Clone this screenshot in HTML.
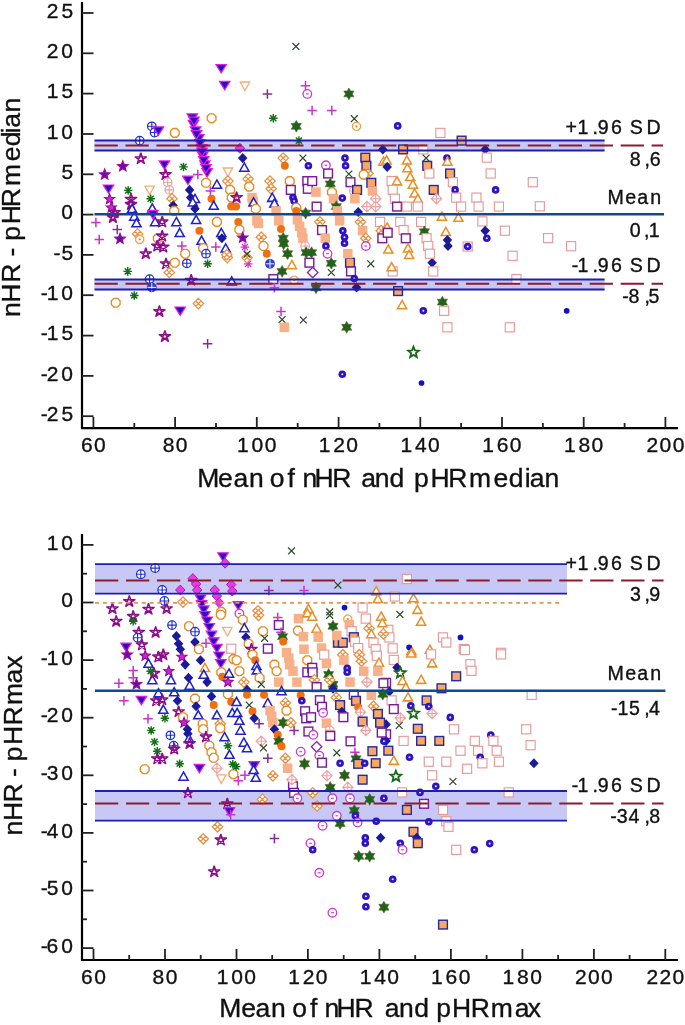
<!DOCTYPE html>
<html><head><meta charset="utf-8"><style>
html,body{margin:0;padding:0;background:#fff;width:685px;height:1025px;overflow:hidden}
svg{display:block;filter:blur(0.3px)}
text{white-space:pre;stroke:#111;stroke-width:0.35px}
</style></head><body>
<svg width="685" height="1025" viewBox="0 0 685 1025" font-family='"Liberation Sans", sans-serif' fill="#111">
<rect x="94.5" y="140.5" width="510.1" height="10.0" fill="#c8c8f6"/><rect x="94.5" y="279.5" width="510.1" height="10.0" fill="#c8c8f6"/><defs><g id="ptv" transform="scale(0.95)"><path d="M-5.5,-4L5.5,-4L0,4.8Z" fill="#2a0cc4" stroke="#e01ee0" stroke-width="1.3"/></g><g id="pst" transform="scale(0.9)"><path d="M0.00,-6.60L3.88,5.34L-6.28,-2.04L6.28,-2.04L-3.88,5.34L0.00,-6.60" fill="none" stroke="#8c0c8c" stroke-width="1.6" stroke-linejoin="round"/></g><g id="pstf" transform="scale(0.85)"><polygon points="0.00,-6.30 1.65,-2.27 5.99,-1.95 2.66,0.87 3.70,5.10 0.00,2.80 -3.70,5.10 -2.66,0.87 -5.99,-1.95 -1.65,-2.27" fill="#5a10b0" stroke="#9a0c9a" stroke-width="1.5"/></g><g id="ga" transform="scale(0.95)"><path d="M-4.5,0H4.5M0,-4.5V4.5M-3.2,-3.2L3.2,3.2M-3.2,3.2L3.2,-3.2" stroke="#147014" stroke-width="1.5"/></g><g id="ma" transform="scale(0.95)"><path d="M-4.5,0H4.5M0,-4.5V4.5M-3.2,-3.2L3.2,3.2M-3.2,3.2L3.2,-3.2" stroke="#d030d0" stroke-width="1.3"/></g><g id="otv" transform="scale(0.95)"><path d="M-5,-4L5,-4L0,5Z" fill="#fff" stroke="#f0b078" stroke-width="1.4"/></g><g id="oc" transform="scale(0.95)"><polygon points="4.62,1.91 1.91,4.62 -1.91,4.62 -4.62,1.91 -4.62,-1.91 -1.91,-4.62 1.91,-4.62 4.62,-1.91" fill="#fff" stroke="#e88a20" stroke-width="1.4"/></g><g id="ocd" transform="scale(0.95)"><polygon points="4.16,1.72 1.72,4.16 -1.72,4.16 -4.16,1.72 -4.16,-1.72 -1.72,-4.16 1.72,-4.16 4.16,-1.72" fill="#fff" stroke="#f0a040" stroke-width="1.3"/><circle r="1.2" fill="#f08020"/></g><g id="bcp" transform="scale(0.95)"><circle r="4.5" fill="#fff" stroke="#2030d0" stroke-width="1.3"/><path d="M-4.5,0H4.5M0,-4.5V4.5" stroke="#2030d0" stroke-width="1.2"/></g><g id="bcpf" transform="scale(0.95)"><circle r="4.5" fill="#3040d8" stroke="#2030d0" stroke-width="1.3"/><path d="M-4.5,0H4.5M0,-4.5V4.5" stroke="#fff" stroke-width="1"/></g><g id="pkcp" transform="scale(0.95)"><circle r="4.5" fill="#fff" stroke="#f0a0a0" stroke-width="1.3"/><path d="M-4.5,0H4.5M0,-4.5V4.5" stroke="#f0a0a0" stroke-width="1.2"/></g><g id="mp" transform="scale(0.95)"><path d="M-5,0H5M0,-5V5" stroke="#d030d0" stroke-width="1.6"/></g><g id="dp" transform="scale(0.95)"><path d="M-5,0H5M0,-5V5" stroke="#8a2a9a" stroke-width="1.6"/></g><g id="mcd" transform="scale(0.95)"><circle r="4.5" fill="#fff" stroke="#c83cd0" stroke-width="1.4"/><path d="M-1.5,0H1.5" stroke="#c83cd0" stroke-width="1.2"/></g><g id="x" transform="scale(0.95)"><path d="M-3.6,-3.6L3.6,3.6M-3.6,3.6L3.6,-3.6" stroke="#2a4a2a" stroke-width="1.3"/></g><g id="gst" transform="scale(0.95)"><polygon points="0.00,-6.20 1.80,-3.12 5.37,-3.10 3.60,0.00 5.37,3.10 1.80,3.12 0.00,6.20 -1.80,3.12 -5.37,3.10 -3.60,0.00 -5.37,-3.10 -1.80,-3.12" fill="#1a661a" stroke="#6a5a2a" stroke-width="0.6"/></g><g id="gsto" transform="scale(0.9)"><polygon points="0.00,-6.30 1.65,-2.27 5.99,-1.95 2.66,0.87 3.70,5.10 0.00,2.80 -3.70,5.10 -2.66,0.87 -5.99,-1.95 -1.65,-2.27" fill="none" stroke="#1a661a" stroke-width="2"/></g><g id="bt" transform="scale(0.9)"><path d="M0,-4.9L5.1,4.2H-5.1Z" fill="#fff" stroke="#2020d0" stroke-width="1.7"/></g><g id="ot" transform="scale(0.9)"><path d="M0,-4.9L5.1,4.2H-5.1Z" fill="#fff" stroke="#e89028" stroke-width="1.7"/></g><g id="ss" transform="scale(0.95)"><rect x="-5" y="-5" width="10" height="10" fill="#f8b088"/></g><g id="pks" transform="scale(0.95)"><rect x="-4.8" y="-4.8" width="9.6" height="9.6" fill="#fff" stroke="#e89898" stroke-width="1.2"/></g><g id="pus" transform="scale(0.95)"><rect x="-4.6" y="-4.6" width="9.2" height="9.2" fill="#fff" stroke="#7a1a9a" stroke-width="1.5"/></g><g id="osq" transform="scale(0.95)"><rect x="-4.6" y="-4.6" width="9.2" height="9.2" fill="#f8a860" stroke="#2a2aa0" stroke-width="1.5"/></g><g id="bc" transform="scale(0.95)"><circle r="4" fill="#2e12c4"/><circle r="1.1" fill="#e8e0ff"/></g><g id="bcs" transform="scale(0.95)"><circle r="3" fill="#1010d0"/></g><g id="bd" transform="scale(0.95)"><path d="M0,-5.3L5,0L0,5.3L-5,0Z" fill="#1a1a9a"/></g><g id="od" transform="scale(0.95)"><path d="M0,-5.5L5.5,0L0,5.5L-5.5,0ZM-2.7,-2.7L2.7,2.7M-2.7,2.7L2.7,-2.7" fill="#fff" stroke="#e89040" stroke-width="1.3"/></g><g id="pkd" transform="scale(0.95)"><path d="M0,-5.5L5.5,0L0,5.5L-5.5,0ZM-5.5,0H5.5M0,-5.5V5.5" fill="#fff" stroke="#f0a0a0" stroke-width="1.2"/></g><g id="pud" transform="scale(0.95)"><path d="M0,-5.5L5.5,0L0,5.5L-5.5,0Z" fill="#fff" stroke="#8a2aa0" stroke-width="1.4"/></g><g id="md" transform="scale(0.95)"><path d="M0,-5.2L5,0L0,5.2L-5,0Z" fill="#e838e8" stroke="#a020b0" stroke-width="1"/></g><g id="pstm" transform="scale(0.85)"><polygon points="0.00,-6.30 1.65,-2.27 5.99,-1.95 2.66,0.87 3.70,5.10 0.00,2.80 -3.70,5.10 -2.66,0.87 -5.99,-1.95 -1.65,-2.27" fill="#d020e0" stroke="#8c0c8c" stroke-width="1.3"/></g><g id="ofc" transform="scale(0.95)"><circle r="4.2" fill="#f07010"/></g></defs><use href="#ptv" x="221.2" y="68.3"/><use href="#ptv" x="224.7" y="85.2"/><use href="#bcp" x="151.8" y="126.3"/><use href="#bcp" x="154.6" y="132.5"/><use href="#ptv" x="158.4" y="130.7"/><use href="#oc" x="174.8" y="132.9"/><use href="#oc" x="211.6" y="118.2"/><use href="#ptv" x="192.3" y="117.6"/><use href="#ptv" x="193.4" y="124.2"/><use href="#ptv" x="195.6" y="130.7"/><use href="#ptv" x="198.9" y="138.4"/><use href="#bcp" x="139.7" y="140.6"/><use href="#x" x="295.9" y="46.4"/><use href="#otv" x="244.9" y="85.8"/><use href="#dp" x="267.4" y="93.9"/><use href="#mp" x="305.5" y="85.8"/><use href="#mcd" x="307.3" y="93.9"/><use href="#gst" x="348.9" y="93.9"/><use href="#mp" x="312.1" y="110.6"/><use href="#mp" x="331.8" y="110.6"/><use href="#ga" x="273.3" y="118.2"/><use href="#gst" x="296.3" y="126.3"/><use href="#x" x="354.3" y="118.7"/><use href="#ocd" x="356.5" y="126.3"/><use href="#ga" x="298.9" y="140.6"/><use href="#bc" x="397.7" y="125.9"/><use href="#pks" x="440.4" y="132.9"/><use href="#osq" x="461.6" y="140.6"/><use href="#pks" x="539.8" y="206.3"/><use href="#pks" x="548.1" y="238.1"/><use href="#pks" x="571.1" y="246.2"/><use href="#pst" x="166.0" y="263.8"/><use href="#oc" x="174.8" y="262.7"/><use href="#od" x="169.3" y="272.5"/><use href="#bcp" x="186.8" y="263.3"/><use href="#ga" x="207.6" y="263.8"/><use href="#od" x="227.3" y="257.6"/><use href="#ga" x="127.7" y="271.4"/><use href="#bcp" x="149.6" y="279.1"/><use href="#bcpf" x="151.8" y="287.4"/><use href="#pst" x="191.2" y="280.2"/><use href="#bt" x="231.7" y="281.3"/><use href="#ga" x="134.3" y="295.5"/><use href="#oc" x="115.7" y="302.7"/><use href="#pst" x="159.4" y="311.5"/><use href="#ptv" x="180.2" y="310.8"/><use href="#od" x="198.4" y="303.6"/><use href="#pst" x="164.9" y="336.5"/><use href="#dp" x="207.6" y="343.7"/><use href="#ma" x="248.1" y="263.8"/><use href="#od" x="247.0" y="257.6"/><use href="#bcpf" x="270.0" y="263.8"/><use href="#gst" x="282.1" y="271.4"/><use href="#ot" x="291.9" y="264.9"/><use href="#pus" x="309.4" y="262.7"/><use href="#pud" x="312.7" y="272.5"/><use href="#gst" x="331.3" y="263.3"/><use href="#x" x="331.3" y="272.5"/><use href="#osq" x="350.0" y="262.7"/><use href="#pus" x="351.0" y="271.4"/><use href="#x" x="370.8" y="263.8"/><use href="#pus" x="273.3" y="279.1"/><use href="#mp" x="274.4" y="287.8"/><use href="#ocd" x="294.1" y="280.2"/><use href="#gst" x="316.0" y="287.8"/><use href="#bc" x="354.3" y="278.6"/><use href="#bd" x="356.5" y="287.4"/><use href="#mp" x="281.0" y="311.5"/><use href="#x" x="282.1" y="319.6"/><use href="#ss" x="284.3" y="327.3"/><use href="#x" x="303.3" y="320.0"/><use href="#gst" x="346.7" y="327.3"/><use href="#pks" x="392.7" y="271.4"/><use href="#ot" x="391.6" y="267.0"/><use href="#bd" x="432.1" y="262.7"/><use href="#pks" x="433.2" y="271.4"/><use href="#pks" x="516.4" y="279.1"/><use href="#osq" x="398.1" y="291.1"/><use href="#ot" x="402.1" y="304.9"/><use href="#bc" x="423.3" y="310.8"/><use href="#gst" x="442.4" y="302.1"/><use href="#pks" x="444.1" y="310.8"/><use href="#pks" x="447.4" y="327.3"/><use href="#pks" x="509.8" y="327.3"/><use href="#gsto" x="413.5" y="352.4"/><use href="#pst" x="140.8" y="158.7"/><use href="#pstf" x="122.8" y="166.4"/><use href="#pstf" x="104.7" y="174.6"/><use href="#ptv" x="108.5" y="188.8"/><use href="#pstm" x="109.6" y="199.2"/><use href="#ga" x="128.2" y="190.4"/><use href="#pst" x="131.0" y="199.2"/><use href="#otv" x="149.6" y="189.9"/><use href="#ga" x="150.7" y="198.7"/><use href="#pstm" x="111.3" y="207.7"/><use href="#pst" x="114.6" y="212.6"/><use href="#pst" x="112.9" y="217.5"/><use href="#pst" x="131.0" y="204.4"/><use href="#bt" x="132.1" y="208.8"/><use href="#bt" x="134.3" y="216.4"/><use href="#bt" x="136.5" y="223.0"/><use href="#mp" x="95.9" y="222.4"/><use href="#mp" x="99.2" y="239.4"/><use href="#dp" x="117.3" y="229.6"/><use href="#pstf" x="120.0" y="238.9"/><use href="#od" x="137.6" y="233.9"/><use href="#ocd" x="139.7" y="239.4"/><use href="#bt" x="152.3" y="208.2"/><use href="#bt" x="155.1" y="221.9"/><use href="#ptv" x="152.9" y="214.2"/><use href="#oc" x="157.8" y="238.3"/><use href="#pst" x="157.3" y="246.0"/><use href="#pst" x="145.8" y="253.7"/><use href="#ptv" x="201.6" y="148.3"/><use href="#ptv" x="202.7" y="155.9"/><use href="#ptv" x="204.9" y="164.7"/><use href="#ptv" x="207.1" y="172.4"/><use href="#ga" x="183.5" y="166.9"/><use href="#mp" x="197.8" y="174.6"/><use href="#ptv" x="164.4" y="164.7"/><use href="#pst" x="165.5" y="174.6"/><use href="#pkcp" x="167.7" y="182.2"/><use href="#pkcp" x="169.3" y="189.9"/><use href="#od" x="172.0" y="198.7"/><use href="#ptv" x="187.9" y="180.0"/><use href="#bd" x="189.6" y="189.9"/><use href="#bd" x="190.7" y="197.6"/><use href="#bt" x="195.0" y="198.7"/><use href="#oc" x="206.0" y="182.8"/><use href="#mp" x="210.4" y="191.0"/><use href="#bt" x="216.9" y="184.4"/><use href="#ofc" x="211.5" y="198.7"/><use href="#otv" x="227.9" y="171.8"/><use href="#od" x="227.9" y="181.1"/><use href="#oc" x="230.1" y="189.9"/><use href="#oc" x="231.7" y="197.6"/><use href="#bd" x="173.1" y="205.5"/><use href="#oc" x="174.2" y="210.9"/><use href="#bt" x="176.4" y="221.9"/><use href="#bt" x="179.7" y="232.8"/><use href="#mp" x="181.9" y="246.0"/><use href="#oc" x="185.2" y="253.7"/><use href="#pst" x="162.2" y="221.9"/><use href="#pst" x="162.2" y="236.1"/><use href="#pst" x="163.3" y="247.1"/><use href="#bt" x="192.8" y="202.2"/><use href="#bd" x="195.0" y="208.8"/><use href="#bt" x="196.1" y="219.7"/><use href="#ofc" x="199.4" y="230.7"/><use href="#bt" x="201.6" y="240.5"/><use href="#oc" x="203.2" y="248.2"/><use href="#bcp" x="206.0" y="253.7"/><use href="#bt" x="213.7" y="205.5"/><use href="#oc" x="216.9" y="221.9"/><use href="#bt" x="221.3" y="232.8"/><use href="#bd" x="221.9" y="238.3"/><use href="#mp" x="215.8" y="247.1"/><use href="#bt" x="225.7" y="248.2"/><use href="#od" x="226.8" y="254.7"/><use href="#ofc" x="231.2" y="206.6"/><use href="#md" x="239.9" y="148.3"/><use href="#bd" x="242.7" y="158.1"/><use href="#bt" x="244.3" y="167.4"/><use href="#od" x="283.2" y="158.1"/><use href="#ofc" x="284.8" y="165.8"/><use href="#x" x="302.9" y="158.1"/><use href="#bc" x="308.4" y="165.8"/><use href="#od" x="248.1" y="178.9"/><use href="#oc" x="249.2" y="186.6"/><use href="#ss" x="252.0" y="197.6"/><use href="#od" x="270.0" y="181.1"/><use href="#od" x="271.1" y="188.8"/><use href="#bt" x="272.2" y="197.6"/><use href="#oc" x="289.7" y="181.1"/><use href="#pus" x="290.8" y="189.9"/><use href="#bc" x="293.0" y="197.6"/><use href="#pus" x="307.3" y="181.1"/><use href="#pus" x="307.8" y="188.8"/><use href="#pst" x="236.6" y="197.6"/><use href="#ofc" x="236.1" y="206.6"/><use href="#ss" x="253.1" y="201.1"/><use href="#bt" x="253.6" y="202.2"/><use href="#oc" x="255.8" y="208.8"/><use href="#bt" x="274.4" y="203.3"/><use href="#ss" x="276.1" y="210.9"/><use href="#bc" x="294.1" y="201.1"/><use href="#oc" x="296.3" y="207.7"/><use href="#ofc" x="296.3" y="210.9"/><use href="#gst" x="305.6" y="213.1"/><use href="#ofc" x="238.3" y="221.9"/><use href="#oc" x="239.4" y="229.6"/><use href="#pstf" x="242.7" y="237.8"/><use href="#ma" x="244.9" y="247.1"/><use href="#x" x="247.0" y="254.2"/><use href="#ss" x="256.9" y="220.8"/><use href="#ss" x="258.5" y="223.5"/><use href="#od" x="261.3" y="237.2"/><use href="#oc" x="263.5" y="246.0"/><use href="#ofc" x="266.8" y="253.7"/><use href="#ss" x="278.8" y="220.8"/><use href="#ofc" x="281.0" y="229.0"/><use href="#gst" x="283.2" y="238.3"/><use href="#gst" x="283.7" y="243.8"/><use href="#gst" x="287.6" y="253.7"/><use href="#ss" x="297.4" y="219.7"/><use href="#ss" x="299.6" y="226.3"/><use href="#ss" x="301.8" y="232.8"/><use href="#ss" x="302.9" y="238.3"/><use href="#pkcp" x="305.1" y="246.0"/><use href="#gst" x="306.2" y="252.6"/><use href="#mcd" x="325.9" y="165.3"/><use href="#pus" x="328.1" y="173.5"/><use href="#gst" x="330.3" y="183.9"/><use href="#oc" x="331.9" y="192.1"/><use href="#ss" x="333.5" y="198.7"/><use href="#bc" x="345.0" y="158.1"/><use href="#bc" x="345.6" y="165.8"/><use href="#x" x="348.9" y="174.0"/><use href="#pus" x="350.5" y="182.2"/><use href="#pkcp" x="353.8" y="191.0"/><use href="#osq" x="357.1" y="189.9"/><use href="#ss" x="354.9" y="198.7"/><use href="#bc" x="342.3" y="198.1"/><use href="#osq" x="365.3" y="157.6"/><use href="#osq" x="366.4" y="165.8"/><use href="#od" x="368.0" y="173.5"/><use href="#oc" x="363.7" y="174.6"/><use href="#osq" x="371.3" y="182.8"/><use href="#ss" x="372.4" y="191.0"/><use href="#pkd" x="375.7" y="198.7"/><use href="#ss" x="316.0" y="192.1"/><use href="#pus" x="312.2" y="181.1"/><use href="#bd" x="382.8" y="149.4"/><use href="#ot" x="383.4" y="161.4"/><use href="#pus" x="316.6" y="206.6"/><use href="#gst" x="336.3" y="206.6"/><use href="#ss" x="337.4" y="210.9"/><use href="#pkd" x="366.9" y="206.6"/><use href="#pkd" x="375.7" y="206.6"/><use href="#bd" x="358.2" y="212.0"/><use href="#od" x="319.9" y="221.9"/><use href="#pus" x="322.0" y="230.1"/><use href="#ss" x="325.3" y="238.3"/><use href="#bc" x="325.9" y="246.0"/><use href="#mcd" x="327.5" y="253.7"/><use href="#ss" x="339.6" y="220.8"/><use href="#bc" x="342.8" y="230.7"/><use href="#bc" x="344.5" y="237.2"/><use href="#bc" x="344.5" y="243.2"/><use href="#ss" x="347.8" y="253.7"/><use href="#od" x="360.4" y="221.9"/><use href="#ss" x="362.6" y="230.7"/><use href="#od" x="365.8" y="238.3"/><use href="#mcd" x="365.8" y="246.0"/><use href="#pks" x="380.1" y="221.9"/><use href="#od" x="381.2" y="230.7"/><use href="#pus" x="382.3" y="238.3"/><use href="#gst" x="311.6" y="252.6"/><use href="#osq" x="403.1" y="149.4"/><use href="#pks" x="423.3" y="149.4"/><use href="#ot" x="386.6" y="160.3"/><use href="#bd" x="387.2" y="166.9"/><use href="#ot" x="406.9" y="160.3"/><use href="#ot" x="407.4" y="168.0"/><use href="#ot" x="410.2" y="176.8"/><use href="#ot" x="412.9" y="184.4"/><use href="#ot" x="414.6" y="193.2"/><use href="#ot" x="417.8" y="198.7"/><use href="#x" x="426.1" y="158.1"/><use href="#osq" x="427.2" y="165.8"/><use href="#pks" x="429.3" y="173.5"/><use href="#bc" x="446.9" y="158.1"/><use href="#ot" x="447.4" y="161.4"/><use href="#osq" x="450.1" y="173.5"/><use href="#pks" x="452.9" y="182.2"/><use href="#bc" x="455.1" y="189.9"/><use href="#pks" x="456.2" y="197.6"/><use href="#pks" x="391.6" y="181.1"/><use href="#ot" x="397.0" y="181.1"/><use href="#pks" x="392.7" y="189.9"/><use href="#pks" x="394.9" y="198.7"/><use href="#osq" x="433.7" y="189.9"/><use href="#pkd" x="436.5" y="198.7"/><use href="#pus" x="397.0" y="206.6"/><use href="#pks" x="406.9" y="206.6"/><use href="#pks" x="417.8" y="206.6"/><use href="#ot" x="441.9" y="216.4"/><use href="#ot" x="458.4" y="217.5"/><use href="#pks" x="400.3" y="221.9"/><use href="#pks" x="403.6" y="230.1"/><use href="#pus" x="405.8" y="238.3"/><use href="#ot" x="408.0" y="248.2"/><use href="#ot" x="409.1" y="254.7"/><use href="#pks" x="421.1" y="221.9"/><use href="#gst" x="424.4" y="231.8"/><use href="#pks" x="426.6" y="238.3"/><use href="#pks" x="428.2" y="246.0"/><use href="#pks" x="429.9" y="253.7"/><use href="#ot" x="445.8" y="231.8"/><use href="#bd" x="447.4" y="240.0"/><use href="#bd" x="448.0" y="246.0"/><use href="#ot" x="387.2" y="227.4"/><use href="#ot" x="388.3" y="249.3"/><use href="#pus" x="387.7" y="232.8"/><use href="#bd" x="485.2" y="149.4"/><use href="#pks" x="486.8" y="157.6"/><use href="#pks" x="490.7" y="173.5"/><use href="#bc" x="495.6" y="189.9"/><use href="#pks" x="476.4" y="197.6"/><use href="#pks" x="532.8" y="182.2"/><use href="#pks" x="461.1" y="206.6"/><use href="#pks" x="478.6" y="206.6"/><use href="#pks" x="498.9" y="206.6"/><use href="#pks" x="482.4" y="221.4"/><use href="#bd" x="485.2" y="230.7"/><use href="#bc" x="486.8" y="238.3"/><use href="#pks" x="504.9" y="230.7"/><use href="#pks" x="467.7" y="246.5"/><use href="#bc" x="467.7" y="246.5"/><use href="#pks" x="512.6" y="255.8"/><use href="#bcs" x="566.7" y="310.8"/><use href="#bc" x="342.3" y="374.3"/><use href="#bcs" x="421.5" y="383.0"/><use href="#ptv" x="194.0" y="121.0"/><use href="#ptv" x="196.5" y="134.5"/><use href="#ptv" x="200.0" y="143.5"/><use href="#ptv" x="202.0" y="152.0"/><use href="#ptv" x="203.8" y="160.5"/><use href="#ptv" x="206.0" y="168.5"/><line x1="94.5" y1="140.5" x2="604.6" y2="140.5" stroke="#1e1eb0" stroke-width="1.8"/><line x1="94.5" y1="150.5" x2="604.6" y2="150.5" stroke="#1e1eb0" stroke-width="1.8"/><line x1="94.5" y1="145.5" x2="663" y2="145.5" stroke="#8c1c2c" stroke-width="2" stroke-dasharray="23.3 7.65"/><line x1="94.5" y1="279.5" x2="604.6" y2="279.5" stroke="#1e1eb0" stroke-width="1.8"/><line x1="94.5" y1="289.5" x2="604.6" y2="289.5" stroke="#1e1eb0" stroke-width="1.8"/><line x1="94.5" y1="283.7" x2="663" y2="283.7" stroke="#8c1c2c" stroke-width="2" stroke-dasharray="23.3 7.65"/><line x1="94.5" y1="214.2" x2="664" y2="214.2" stroke="#0e4a9a" stroke-width="2.6"/><rect x="95" y="564.1" width="472" height="29.600000000000023" fill="#c8c8f6"/><rect x="95" y="791" width="472" height="29.600000000000023" fill="#c8c8f6"/><use href="#pst" x="187.9" y="792.8"/><use href="#pst" x="227.3" y="803.8"/><use href="#ptv" x="229.5" y="811.5"/><use href="#mp" x="230.6" y="814.7"/><use href="#od" x="217.5" y="826.8"/><use href="#od" x="203.2" y="838.8"/><use href="#pst" x="220.8" y="839.9"/><use href="#pst" x="214.2" y="871.7"/><use href="#x" x="291.5" y="550.9"/><use href="#pus" x="293.0" y="786.3"/><use href="#pus" x="294.1" y="792.8"/><use href="#mcd" x="297.4" y="798.3"/><use href="#od" x="262.4" y="799.4"/><use href="#od" x="312.7" y="792.8"/><use href="#od" x="317.1" y="806.0"/><use href="#gst" x="330.2" y="787.4"/><use href="#mcd" x="332.4" y="798.3"/><use href="#pkd" x="347.8" y="787.4"/><use href="#mcd" x="350.0" y="798.3"/><use href="#gst" x="369.7" y="799.4"/><use href="#bc" x="383.9" y="798.3"/><use href="#gst" x="354.3" y="810.4"/><use href="#bc" x="355.4" y="815.8"/><use href="#mcd" x="336.8" y="815.8"/><use href="#gst" x="340.1" y="823.5"/><use href="#mcd" x="357.6" y="822.4"/><use href="#bc" x="376.2" y="821.3"/><use href="#mcd" x="322.6" y="825.7"/><use href="#dp" x="274.4" y="838.4"/><use href="#mcd" x="310.5" y="843.2"/><use href="#bc" x="312.7" y="849.8"/><use href="#bc" x="365.3" y="837.7"/><use href="#bc" x="365.3" y="843.2"/><use href="#bd" x="380.6" y="837.7"/><use href="#gst" x="358.7" y="856.3"/><use href="#gst" x="369.7" y="856.3"/><use href="#mcd" x="319.3" y="872.8"/><use href="#bc" x="365.9" y="896.3"/><use href="#bc" x="365.9" y="906.8"/><use href="#mcd" x="332.4" y="912.7"/><use href="#gst" x="383.9" y="907.2"/><use href="#pks" x="406.9" y="579.0"/><use href="#pks" x="394.9" y="596.5"/><use href="#ot" x="413.5" y="598.0"/><use href="#ot" x="417.4" y="609.6"/><use href="#ot" x="421.1" y="621.5"/><use href="#x" x="399.9" y="614.4"/><use href="#pks" x="388.3" y="629.8"/><use href="#pks" x="389.4" y="637.4"/><use href="#pks" x="392.7" y="648.4"/><use href="#pks" x="443.0" y="637.4"/><use href="#pks" x="446.3" y="642.5"/><use href="#bcs" x="460.5" y="637.4"/><use href="#pks" x="463.8" y="649.0"/><use href="#ot" x="411.3" y="650.6"/><use href="#bcs" x="409.1" y="647.3"/><use href="#ot" x="429.9" y="649.5"/><use href="#pks" x="501.0" y="652.8"/><use href="#pks" x="393.8" y="659.9"/><use href="#bd" x="397.0" y="667.5"/><use href="#gsto" x="400.3" y="673.0"/><use href="#pus" x="386.1" y="682.8"/><use href="#ot" x="402.5" y="680.7"/><use href="#ot" x="405.8" y="687.2"/><use href="#bd" x="389.4" y="691.6"/><use href="#pks" x="391.6" y="700.4"/><use href="#pus" x="393.8" y="709.1"/><use href="#pkd" x="400.3" y="717.9"/><use href="#x" x="399.2" y="725.5"/><use href="#bd" x="386.1" y="724.4"/><use href="#pus" x="386.1" y="734.3"/><use href="#bd" x="386.1" y="740.9"/><use href="#osq" x="388.3" y="750.7"/><use href="#ot" x="393.8" y="760.6"/><use href="#ot" x="411.3" y="653.3"/><use href="#ot" x="432.1" y="663.1"/><use href="#pks" x="431.0" y="654.4"/><use href="#ot" x="421.1" y="679.6"/><use href="#ot" x="408.0" y="697.1"/><use href="#osq" x="456.2" y="676.3"/><use href="#osq" x="441.5" y="688.3"/><use href="#pks" x="470.4" y="664.2"/><use href="#pks" x="471.5" y="670.8"/><use href="#pks" x="501.0" y="654.4"/><use href="#pks" x="464.9" y="650.0"/><use href="#osq" x="426.6" y="700.4"/><use href="#bc" x="410.8" y="705.8"/><use href="#bc" x="428.8" y="706.5"/><use href="#gsto" x="413.5" y="713.5"/><use href="#pkd" x="432.1" y="713.5"/><use href="#bc" x="450.3" y="717.4"/><use href="#pks" x="454.0" y="729.3"/><use href="#osq" x="417.8" y="728.8"/><use href="#osq" x="421.1" y="740.9"/><use href="#osq" x="439.3" y="740.9"/><use href="#pks" x="403.6" y="740.9"/><use href="#bc" x="490.8" y="735.0"/><use href="#pks" x="474.8" y="740.9"/><use href="#pks" x="493.4" y="740.9"/><use href="#pks" x="496.7" y="750.7"/><use href="#pks" x="526.2" y="729.3"/><use href="#pks" x="530.6" y="745.2"/><use href="#pks" x="531.7" y="694.9"/><use href="#pks" x="460.5" y="750.7"/><use href="#pks" x="478.1" y="750.7"/><use href="#bc" x="480.2" y="757.3"/><use href="#bc" x="409.5" y="757.3"/><use href="#pks" x="428.8" y="761.7"/><use href="#pks" x="446.3" y="761.7"/><use href="#pks" x="498.9" y="761.7"/><use href="#gsto" x="395.9" y="776.4"/><use href="#pks" x="432.1" y="775.3"/><use href="#pks" x="467.1" y="768.8"/><use href="#x" x="452.9" y="781.5"/><use href="#bc" x="435.8" y="786.3"/><use href="#bc" x="420.0" y="792.4"/><use href="#pks" x="402.1" y="792.4"/><use href="#pks" x="508.7" y="792.4"/><use href="#pus" x="424.0" y="803.8"/><use href="#osq" x="406.9" y="809.9"/><use href="#pks" x="443.0" y="809.9"/><use href="#bc" x="428.8" y="821.7"/><use href="#pks" x="446.3" y="821.3"/><use href="#pks" x="448.5" y="826.8"/><use href="#osq" x="413.5" y="831.8"/><use href="#bd" x="416.7" y="837.7"/><use href="#osq" x="417.8" y="843.2"/><use href="#bc" x="400.3" y="843.2"/><use href="#mcd" x="402.5" y="849.8"/><use href="#pks" x="456.2" y="849.8"/><use href="#bc" x="474.3" y="849.8"/><use href="#bc" x="489.7" y="843.6"/><use href="#pks" x="482.4" y="763.3"/><use href="#bd" x="533.9" y="763.3"/><use href="#bc" x="392.7" y="879.3"/><use href="#osq" x="443.0" y="924.6"/><use href="#bcp" x="140.8" y="574.2"/><use href="#bcp" x="155.1" y="568.1"/><use href="#pst" x="129.3" y="601.5"/><use href="#pst" x="112.4" y="608.7"/><use href="#pst" x="148.5" y="609.2"/><use href="#pst" x="116.2" y="621.3"/><use href="#pst" x="133.2" y="616.4"/><use href="#ga" x="133.2" y="621.3"/><use href="#pst" x="138.7" y="632.3"/><use href="#pst" x="155.6" y="632.3"/><use href="#bcp" x="137.6" y="637.7"/><use href="#pst" x="141.9" y="644.8"/><use href="#ptv" x="126.1" y="647.0"/><use href="#pstf" x="127.2" y="654.7"/><use href="#pstm" x="145.2" y="655.8"/><use href="#bt" x="148.5" y="663.5"/><use href="#pst" x="158.4" y="656.9"/><use href="#mp" x="133.2" y="670.6"/><use href="#mp" x="133.2" y="677.8"/><use href="#pstf" x="136.5" y="684.3"/><use href="#mp" x="118.9" y="683.2"/><use href="#bt" x="152.3" y="679.9"/><use href="#pst" x="154.0" y="673.4"/><use href="#ga" x="150.7" y="671.2"/><use href="#mp" x="123.9" y="700.8"/><use href="#ptv" x="141.4" y="700.2"/><use href="#pst" x="156.2" y="700.8"/><use href="#bt" x="158.4" y="693.1"/><use href="#mp" x="148.0" y="718.8"/><use href="#ga" x="151.2" y="730.4"/><use href="#ga" x="154.5" y="741.9"/><use href="#ga" x="157.3" y="751.2"/><use href="#pst" x="157.3" y="758.8"/><use href="#oc" x="144.7" y="769.2"/><use href="#ptv" x="223.0" y="556.6"/><use href="#md" x="225.1" y="563.2"/><use href="#md" x="192.8" y="578.5"/><use href="#md" x="196.1" y="584.0"/><use href="#md" x="197.2" y="590.0"/><use href="#md" x="180.3" y="590.0"/><use href="#md" x="214.7" y="590.0"/><use href="#md" x="216.9" y="596.1"/><use href="#md" x="219.1" y="602.6"/><use href="#md" x="231.2" y="584.6"/><use href="#md" x="232.3" y="591.1"/><use href="#bcp" x="162.2" y="590.0"/><use href="#bcp" x="164.4" y="601.0"/><use href="#pst" x="166.6" y="608.7"/><use href="#od" x="183.0" y="602.1"/><use href="#ptv" x="200.5" y="598.8"/><use href="#ptv" x="201.6" y="604.3"/><use href="#ptv" x="203.8" y="609.7"/><use href="#oc" x="221.3" y="611.9"/><use href="#bcp" x="172.0" y="625.1"/><use href="#bd" x="176.4" y="636.1"/><use href="#bd" x="178.6" y="643.8"/><use href="#bd" x="180.3" y="649.2"/><use href="#pstm" x="181.9" y="656.9"/><use href="#bd" x="185.2" y="664.6"/><use href="#oc" x="189.0" y="626.2"/><use href="#bcp" x="195.0" y="631.7"/><use href="#bd" x="195.0" y="642.1"/><use href="#oc" x="198.9" y="649.2"/><use href="#bd" x="200.5" y="660.2"/><use href="#ot" x="204.9" y="667.8"/><use href="#ptv" x="204.9" y="615.3"/><use href="#ptv" x="207.1" y="620.8"/><use href="#ptv" x="209.3" y="627.3"/><use href="#ptv" x="211.5" y="635.0"/><use href="#ptv" x="213.7" y="641.6"/><use href="#ptv" x="216.9" y="648.1"/><use href="#ptv" x="219.1" y="655.8"/><use href="#ptv" x="220.8" y="663.5"/><use href="#mp" x="206.0" y="643.2"/><use href="#oc" x="220.8" y="614.7"/><use href="#otv" x="227.3" y="631.2"/><use href="#pks" x="231.2" y="648.7"/><use href="#oc" x="233.4" y="659.1"/><use href="#pst" x="163.3" y="654.7"/><use href="#pstm" x="168.8" y="671.2"/><use href="#bt" x="170.9" y="679.9"/><use href="#bt" x="174.2" y="692.0"/><use href="#bd" x="177.5" y="700.8"/><use href="#pst" x="178.6" y="711.7"/><use href="#oc" x="183.0" y="717.2"/><use href="#pstm" x="184.1" y="722.7"/><use href="#bd" x="188.5" y="677.8"/><use href="#bt" x="189.6" y="685.4"/><use href="#oc" x="195.0" y="698.6"/><use href="#bd" x="196.1" y="706.2"/><use href="#bt" x="198.3" y="715.0"/><use href="#oc" x="202.7" y="723.7"/><use href="#bt" x="203.8" y="674.5"/><use href="#bd" x="207.1" y="682.1"/><use href="#bd" x="211.5" y="696.4"/><use href="#ofc" x="213.7" y="705.1"/><use href="#bt" x="216.9" y="715.0"/><use href="#od" x="220.2" y="723.7"/><use href="#oc" x="221.3" y="672.3"/><use href="#ofc" x="222.4" y="676.7"/><use href="#bt" x="229.0" y="673.4"/><use href="#pstm" x="227.9" y="682.1"/><use href="#oc" x="227.9" y="694.2"/><use href="#ofc" x="231.2" y="701.8"/><use href="#bt" x="232.3" y="712.8"/><use href="#pst" x="162.2" y="699.7"/><use href="#bt" x="163.3" y="709.5"/><use href="#ga" x="164.9" y="718.3"/><use href="#bcp" x="170.4" y="735.3"/><use href="#bcp" x="173.7" y="745.7"/><use href="#pst" x="174.2" y="749.0"/><use href="#bd" x="187.4" y="729.3"/><use href="#bd" x="187.9" y="733.7"/><use href="#bt" x="189.0" y="738.6"/><use href="#pst" x="189.6" y="743.5"/><use href="#oc" x="203.2" y="729.3"/><use href="#pst" x="206.0" y="736.9"/><use href="#oc" x="209.3" y="745.7"/><use href="#oc" x="211.5" y="752.3"/><use href="#oc" x="213.7" y="757.8"/><use href="#oc" x="220.2" y="728.2"/><use href="#bt" x="224.6" y="736.9"/><use href="#ga" x="227.9" y="745.7"/><use href="#bt" x="229.5" y="754.5"/><use href="#ga" x="179.7" y="763.8"/><use href="#bt" x="183.5" y="776.4"/><use href="#ptv" x="199.4" y="768.2"/><use href="#pkd" x="216.9" y="768.2"/><use href="#otv" x="221.3" y="778.6"/><use href="#ga" x="232.8" y="764.3"/><use href="#oc" x="233.4" y="774.2"/><use href="#pst" x="162.2" y="758.8"/><use href="#dp" x="268.9" y="590.6"/><use href="#mp" x="304.0" y="590.6"/><use href="#ptv" x="238.3" y="605.4"/><use href="#od" x="258.0" y="610.8"/><use href="#ot" x="308.4" y="608.7"/><use href="#mcd" x="239.4" y="613.6"/><use href="#oc" x="242.7" y="619.7"/><use href="#bt" x="244.3" y="627.9"/><use href="#bd" x="245.9" y="637.2"/><use href="#oc" x="248.7" y="643.8"/><use href="#pst" x="251.4" y="649.2"/><use href="#oc" x="252.5" y="654.7"/><use href="#ofc" x="255.3" y="660.2"/><use href="#bt" x="256.4" y="665.7"/><use href="#od" x="258.5" y="615.3"/><use href="#oc" x="262.9" y="631.2"/><use href="#x" x="264.6" y="638.3"/><use href="#pus" x="267.8" y="648.7"/><use href="#oc" x="274.4" y="664.6"/><use href="#mp" x="277.7" y="617.5"/><use href="#pus" x="278.8" y="625.1"/><use href="#mp" x="281.0" y="632.3"/><use href="#gst" x="282.6" y="636.6"/><use href="#ofc" x="283.2" y="641.6"/><use href="#ss" x="286.5" y="652.5"/><use href="#ss" x="288.7" y="658.0"/><use href="#ss" x="289.7" y="664.6"/><use href="#ss" x="298.5" y="618.6"/><use href="#oc" x="298.0" y="630.6"/><use href="#ss" x="303.4" y="636.6"/><use href="#ss" x="304.0" y="649.2"/><use href="#oc" x="307.3" y="660.2"/><use href="#ot" x="307.3" y="613.1"/><use href="#oc" x="236.6" y="660.2"/><use href="#oc" x="239.4" y="671.2"/><use href="#od" x="243.8" y="682.1"/><use href="#bd" x="247.0" y="689.8"/><use href="#ofc" x="247.0" y="694.7"/><use href="#x" x="249.2" y="705.1"/><use href="#ofc" x="252.5" y="711.2"/><use href="#bd" x="254.2" y="718.3"/><use href="#dp" x="259.1" y="723.7"/><use href="#bt" x="256.9" y="670.1"/><use href="#oc" x="259.6" y="677.8"/><use href="#x" x="261.3" y="684.3"/><use href="#ofc" x="264.0" y="694.7"/><use href="#bt" x="267.8" y="702.9"/><use href="#ss" x="270.0" y="710.6"/><use href="#ss" x="271.7" y="716.1"/><use href="#ss" x="272.8" y="722.7"/><use href="#oc" x="276.6" y="671.2"/><use href="#ss" x="278.8" y="682.1"/><use href="#bt" x="281.5" y="690.9"/><use href="#od" x="285.4" y="702.9"/><use href="#oc" x="286.5" y="710.6"/><use href="#gst" x="283.2" y="722.7"/><use href="#od" x="290.8" y="722.7"/><use href="#ss" x="293.0" y="671.2"/><use href="#ss" x="296.9" y="682.1"/><use href="#ofc" x="300.7" y="695.3"/><use href="#bc" x="301.8" y="700.8"/><use href="#pus" x="305.1" y="711.2"/><use href="#pus" x="306.2" y="718.3"/><use href="#pus" x="307.3" y="672.3"/><use href="#bt" x="236.6" y="701.8"/><use href="#bt" x="237.2" y="712.8"/><use href="#bt" x="239.4" y="720.5"/><use href="#bt" x="240.5" y="730.4"/><use href="#bt" x="243.8" y="742.4"/><use href="#bt" x="247.0" y="747.9"/><use href="#pkd" x="261.3" y="741.3"/><use href="#x" x="263.5" y="747.9"/><use href="#dp" x="267.8" y="758.3"/><use href="#bd" x="274.4" y="729.3"/><use href="#ofc" x="277.7" y="734.8"/><use href="#gst" x="278.8" y="741.3"/><use href="#ofc" x="281.5" y="746.3"/><use href="#dp" x="294.1" y="730.4"/><use href="#od" x="285.4" y="758.3"/><use href="#ss" x="287.6" y="768.2"/><use href="#pkd" x="291.9" y="779.7"/><use href="#mcd" x="300.7" y="751.7"/><use href="#gst" x="304.5" y="763.8"/><use href="#ptv" x="254.2" y="765.4"/><use href="#bt" x="253.6" y="769.8"/><use href="#bt" x="255.8" y="777.5"/><use href="#mp" x="244.9" y="775.3"/><use href="#mp" x="238.3" y="780.7"/><use href="#ga" x="236.1" y="766.5"/><use href="#od" x="272.8" y="775.8"/><use href="#pus" x="308.4" y="731.5"/><use href="#x" x="337.9" y="585.1"/><use href="#ot" x="376.2" y="591.1"/><use href="#ot" x="377.9" y="598.8"/><use href="#bcs" x="344.5" y="607.6"/><use href="#pks" x="362.6" y="607.6"/><use href="#x" x="329.7" y="611.9"/><use href="#ot" x="312.2" y="616.4"/><use href="#ot" x="316.6" y="628.4"/><use href="#ss" x="318.2" y="637.2"/><use href="#ss" x="321.5" y="648.1"/><use href="#pks" x="324.2" y="654.7"/><use href="#ss" x="326.4" y="663.5"/><use href="#pus" x="312.2" y="667.8"/><use href="#x" x="329.7" y="615.3"/><use href="#gst" x="333.0" y="626.2"/><use href="#ocd" x="347.8" y="619.1"/><use href="#ss" x="349.4" y="624.6"/><use href="#pks" x="351.6" y="631.2"/><use href="#osq" x="353.8" y="637.2"/><use href="#pks" x="354.9" y="641.6"/><use href="#pks" x="358.2" y="648.1"/><use href="#od" x="359.3" y="654.7"/><use href="#od" x="361.5" y="661.3"/><use href="#osq" x="337.9" y="642.7"/><use href="#osq" x="342.8" y="642.7"/><use href="#ss" x="336.8" y="635.5"/><use href="#od" x="342.8" y="654.7"/><use href="#ss" x="343.9" y="660.2"/><use href="#bc" x="347.2" y="668.4"/><use href="#pks" x="365.8" y="618.6"/><use href="#od" x="369.1" y="628.4"/><use href="#ot" x="371.3" y="633.9"/><use href="#pks" x="373.5" y="642.7"/><use href="#pks" x="375.7" y="649.2"/><use href="#pks" x="376.8" y="655.8"/><use href="#ot" x="379.0" y="662.4"/><use href="#ot" x="381.2" y="616.4"/><use href="#ot" x="382.3" y="622.9"/><use href="#od" x="383.4" y="633.9"/><use href="#pus" x="312.7" y="672.3"/><use href="#od" x="314.4" y="679.9"/><use href="#pus" x="316.6" y="687.1"/><use href="#pus" x="319.9" y="700.2"/><use href="#pus" x="322.0" y="706.8"/><use href="#mcd" x="323.1" y="712.8"/><use href="#ss" x="326.4" y="723.2"/><use href="#pus" x="311.1" y="717.2"/><use href="#gst" x="328.6" y="674.5"/><use href="#gst" x="333.0" y="684.3"/><use href="#od" x="329.7" y="679.9"/><use href="#bd" x="333.0" y="688.7"/><use href="#bc" x="347.2" y="672.3"/><use href="#ss" x="350.0" y="682.1"/><use href="#od" x="336.3" y="697.5"/><use href="#osq" x="340.1" y="705.1"/><use href="#bd" x="341.8" y="711.7"/><use href="#pus" x="343.4" y="717.2"/><use href="#ss" x="363.7" y="671.2"/><use href="#pkd" x="366.9" y="682.1"/><use href="#pus" x="353.8" y="694.7"/><use href="#osq" x="356.0" y="700.8"/><use href="#ofc" x="358.2" y="707.3"/><use href="#pkd" x="360.4" y="712.2"/><use href="#osq" x="362.6" y="721.6"/><use href="#ss" x="377.9" y="671.2"/><use href="#pus" x="383.4" y="683.2"/><use href="#ss" x="371.3" y="695.3"/><use href="#od" x="373.5" y="706.2"/><use href="#osq" x="377.9" y="713.9"/><use href="#osq" x="380.1" y="722.7"/><use href="#gst" x="382.8" y="694.2"/><use href="#mcd" x="313.3" y="734.8"/><use href="#pkcp" x="329.7" y="730.4"/><use href="#ofc" x="330.3" y="735.9"/><use href="#pus" x="330.3" y="735.9"/><use href="#pud" x="316.6" y="746.8"/><use href="#mcd" x="319.3" y="755.6"/><use href="#pus" x="322.0" y="762.7"/><use href="#x" x="336.8" y="752.8"/><use href="#bc" x="340.1" y="763.2"/><use href="#pus" x="350.5" y="741.3"/><use href="#mp" x="354.9" y="752.3"/><use href="#gst" x="356.0" y="758.8"/><use href="#osq" x="358.2" y="763.8"/><use href="#bc" x="364.7" y="763.2"/><use href="#pkd" x="365.8" y="730.4"/><use href="#osq" x="372.4" y="751.2"/><use href="#osq" x="375.7" y="763.2"/><use href="#osq" x="362.6" y="779.7"/><use href="#pkd" x="327.0" y="775.8"/><use href="#gst" x="344.5" y="775.3"/><use href="#bc" x="383.9" y="741.3"/><use href="#pus" x="381.7" y="732.6"/><line x1="95" y1="564.1" x2="567" y2="564.1" stroke="#1e1eb0" stroke-width="1.8"/><line x1="95" y1="593.7" x2="567" y2="593.7" stroke="#1e1eb0" stroke-width="1.8"/><line x1="95" y1="580.5" x2="663.6" y2="580.5" stroke="#8c1c2c" stroke-width="2" stroke-dasharray="23.3 7.65"/><line x1="95" y1="791" x2="567" y2="791" stroke="#1e1eb0" stroke-width="1.8"/><line x1="95" y1="820.6" x2="567" y2="820.6" stroke="#1e1eb0" stroke-width="1.8"/><line x1="95" y1="803.4" x2="663.6" y2="803.4" stroke="#8c1c2c" stroke-width="2" stroke-dasharray="23.3 7.65"/><line x1="95" y1="602.9" x2="563" y2="602.9" stroke="#e09850" stroke-width="1.8" stroke-dasharray="4 3.8"/><line x1="95" y1="690.8" x2="665.4" y2="690.8" stroke="#0e4a9a" stroke-width="2.6"/><g stroke="#000" fill="none"><line x1="82" y1="2" x2="82" y2="429" stroke-width="2.2"/><line x1="81" y1="428.2" x2="678" y2="428.2" stroke-width="2.2"/><line x1="82" y1="416.2" x2="93.5" y2="416.2" stroke-width="1.8" stroke="#222"/><line x1="82" y1="375.9" x2="93.5" y2="375.9" stroke-width="1.8" stroke="#222"/><line x1="82" y1="335.6" x2="93.5" y2="335.6" stroke-width="1.8" stroke="#222"/><line x1="82" y1="295.2" x2="93.5" y2="295.2" stroke-width="1.8" stroke="#222"/><line x1="82" y1="254.9" x2="93.5" y2="254.9" stroke-width="1.8" stroke="#222"/><line x1="82" y1="214.6" x2="93.5" y2="214.6" stroke-width="1.8" stroke="#222"/><line x1="82" y1="174.3" x2="93.5" y2="174.3" stroke-width="1.8" stroke="#222"/><line x1="82" y1="134.0" x2="93.5" y2="134.0" stroke-width="1.8" stroke="#222"/><line x1="82" y1="93.6" x2="93.5" y2="93.6" stroke-width="1.8" stroke="#222"/><line x1="82" y1="53.3" x2="93.5" y2="53.3" stroke-width="1.8" stroke="#222"/><line x1="82" y1="13.0" x2="93.5" y2="13.0" stroke-width="1.8" stroke="#222"/><line x1="93.4" y1="428" x2="93.4" y2="417" stroke-width="1.8" stroke="#222"/><line x1="134.3" y1="428" x2="134.3" y2="423" stroke-width="1.8" stroke="#222"/><line x1="175.1" y1="428" x2="175.1" y2="417" stroke-width="1.8" stroke="#222"/><line x1="216.0" y1="428" x2="216.0" y2="423" stroke-width="1.8" stroke="#222"/><line x1="256.8" y1="428" x2="256.8" y2="417" stroke-width="1.8" stroke="#222"/><line x1="297.7" y1="428" x2="297.7" y2="423" stroke-width="1.8" stroke="#222"/><line x1="338.6" y1="428" x2="338.6" y2="417" stroke-width="1.8" stroke="#222"/><line x1="379.4" y1="428" x2="379.4" y2="423" stroke-width="1.8" stroke="#222"/><line x1="420.3" y1="428" x2="420.3" y2="417" stroke-width="1.8" stroke="#222"/><line x1="461.1" y1="428" x2="461.1" y2="423" stroke-width="1.8" stroke="#222"/><line x1="502.0" y1="428" x2="502.0" y2="417" stroke-width="1.8" stroke="#222"/><line x1="542.9" y1="428" x2="542.9" y2="423" stroke-width="1.8" stroke="#222"/><line x1="583.7" y1="428" x2="583.7" y2="417" stroke-width="1.8" stroke="#222"/><line x1="624.6" y1="428" x2="624.6" y2="423" stroke-width="1.8" stroke="#222"/><line x1="665.4" y1="428" x2="665.4" y2="417" stroke-width="1.8" stroke="#222"/><line x1="82" y1="534" x2="82" y2="961" stroke-width="2.2"/><line x1="81" y1="960" x2="678" y2="960" stroke-width="2.2"/><line x1="82" y1="948.1" x2="93.5" y2="948.1" stroke-width="1.8" stroke="#222"/><line x1="82" y1="919.3" x2="87" y2="919.3" stroke-width="1.8" stroke="#222"/><line x1="82" y1="890.5" x2="93.5" y2="890.5" stroke-width="1.8" stroke="#222"/><line x1="82" y1="861.7" x2="87" y2="861.7" stroke-width="1.8" stroke="#222"/><line x1="82" y1="832.9" x2="93.5" y2="832.9" stroke-width="1.8" stroke="#222"/><line x1="82" y1="804.1" x2="87" y2="804.1" stroke-width="1.8" stroke="#222"/><line x1="82" y1="775.3" x2="93.5" y2="775.3" stroke-width="1.8" stroke="#222"/><line x1="82" y1="746.5" x2="87" y2="746.5" stroke-width="1.8" stroke="#222"/><line x1="82" y1="717.7" x2="93.5" y2="717.7" stroke-width="1.8" stroke="#222"/><line x1="82" y1="688.9" x2="87" y2="688.9" stroke-width="1.8" stroke="#222"/><line x1="82" y1="660.1" x2="93.5" y2="660.1" stroke-width="1.8" stroke="#222"/><line x1="82" y1="631.3" x2="87" y2="631.3" stroke-width="1.8" stroke="#222"/><line x1="82" y1="602.5" x2="93.5" y2="602.5" stroke-width="1.8" stroke="#222"/><line x1="82" y1="573.7" x2="87" y2="573.7" stroke-width="1.8" stroke="#222"/><line x1="82" y1="544.9" x2="93.5" y2="544.9" stroke-width="1.8" stroke="#222"/><line x1="93.5" y1="960" x2="93.5" y2="949" stroke-width="1.8" stroke="#222"/><line x1="129.2" y1="960" x2="129.2" y2="955" stroke-width="1.8" stroke="#222"/><line x1="165.0" y1="960" x2="165.0" y2="949" stroke-width="1.8" stroke="#222"/><line x1="200.7" y1="960" x2="200.7" y2="955" stroke-width="1.8" stroke="#222"/><line x1="236.5" y1="960" x2="236.5" y2="949" stroke-width="1.8" stroke="#222"/><line x1="272.2" y1="960" x2="272.2" y2="955" stroke-width="1.8" stroke="#222"/><line x1="307.9" y1="960" x2="307.9" y2="949" stroke-width="1.8" stroke="#222"/><line x1="343.7" y1="960" x2="343.7" y2="955" stroke-width="1.8" stroke="#222"/><line x1="379.4" y1="960" x2="379.4" y2="949" stroke-width="1.8" stroke="#222"/><line x1="415.2" y1="960" x2="415.2" y2="955" stroke-width="1.8" stroke="#222"/><line x1="450.9" y1="960" x2="450.9" y2="949" stroke-width="1.8" stroke="#222"/><line x1="486.6" y1="960" x2="486.6" y2="955" stroke-width="1.8" stroke="#222"/><line x1="522.4" y1="960" x2="522.4" y2="949" stroke-width="1.8" stroke="#222"/><line x1="558.1" y1="960" x2="558.1" y2="955" stroke-width="1.8" stroke="#222"/><line x1="593.9" y1="960" x2="593.9" y2="949" stroke-width="1.8" stroke="#222"/><line x1="629.6" y1="960" x2="629.6" y2="955" stroke-width="1.8" stroke="#222"/><line x1="665.3" y1="960" x2="665.3" y2="949" stroke-width="1.8" stroke="#222"/></g><text x="40.7 46.66 61.38" y="420.8" font-size="21">-25</text><text x="40.7 46.66 61.36" y="380.5" font-size="21">-20</text><text x="40.7 46.67 61.38" y="340.2" font-size="21">-15</text><text x="40.7 46.67 61.36" y="299.8" font-size="21">-10</text><text x="53.4 61.38" y="259.5" font-size="21">-5</text><text x="61.36" y="219.2" font-size="21">0</text><text x="61.38" y="178.9" font-size="21">5</text><text x="46.67 61.36" y="138.6" font-size="21">10</text><text x="46.67 61.38" y="98.2" font-size="21">15</text><text x="46.66 61.36" y="57.9" font-size="21">20</text><text x="46.66 61.38" y="17.6" font-size="21">25</text><text x="80.94 94.11" y="451.8" font-size="21">60</text><text x="162.73 175.83" y="451.8" font-size="21">80</text><text x="237.06 251.55 264.65" y="451.8" font-size="21">100</text><text x="318.78 333.27 346.37" y="451.8" font-size="21">120</text><text x="400.5 415.06 428.09" y="451.8" font-size="21">140</text><text x="482.22 496.64 509.81" y="451.8" font-size="21">160</text><text x="563.94 578.43 591.53" y="451.8" font-size="21">180</text><text x="646.5 659.6 672.7" y="451.8" font-size="21">200</text><text x="40.7 46.59 61.36" y="952.7" font-size="21">-60</text><text x="40.7 46.68 61.36" y="895.1" font-size="21">-50</text><text x="40.7 46.73 61.36" y="837.5" font-size="21">-40</text><text x="40.7 46.72 61.36" y="779.9" font-size="21">-30</text><text x="40.7 46.66 61.36" y="722.3" font-size="21">-20</text><text x="40.7 46.67 61.36" y="664.7" font-size="21">-10</text><text x="61.36" y="607.1" font-size="21">0</text><text x="46.67 61.36" y="549.5" font-size="21">10</text><text x="81.04 94.21" y="984.2" font-size="21">60</text><text x="152.59 165.69" y="984.2" font-size="21">80</text><text x="216.68 231.17 244.27" y="984.2" font-size="21">100</text><text x="288.16 302.65 315.75" y="984.2" font-size="21">120</text><text x="359.64 374.2 387.23" y="984.2" font-size="21">140</text><text x="431.12 445.54 458.71" y="984.2" font-size="21">160</text><text x="502.6 517.09 530.19" y="984.2" font-size="21">180</text><text x="574.92 588.02 601.12" y="984.2" font-size="21">200</text><text x="646.4 659.5 672.6" y="984.2" font-size="21">220</text><text x="197.16 217.96 233.47 248.91 269.73 287.61 302.41 314.42 332.26 361.37 374.81 389.53 414.03 430.42 448.36 468.96 493.46 508.73 524.86 529.77 544.51" y="486.6" font-size="26.5">MeanofnHRandpHRmedian</text><text x="219.36 241.16 255.57 271.11 292.23 309.91 324.61 336.62 354.46 384.77 398.91 414.13 436.23 451.92 470.66 490.86 514.77 527.77" y="1017.4" font-size="26.5">MeanofnHRandpHRmax</text><text transform="translate(20.3,0) rotate(-90)" x="-316.89 -302.78 -282.74 -256.61 -240.77 -224.28 -207.24 -186.04 -161.24 -146.37 -133.14 -127.83 -112.39" y="0" font-size="26.5">nHR-pHRmedian</text><text transform="translate(22.2,0) rotate(-90)" x="-835.49 -820.98 -802.44 -777.11 -761.37 -745.08 -725.54 -705.04 -683.43 -668.63" y="0" font-size="26.5">nHR-pHRmax</text><text x="565.48 577.48 592.48 597.75 610.88 629.77 646.39" y="134.0" font-size="19.6">+1.96SD</text><text x="629.65 644.48 649.68" y="166.0" font-size="19.6">8,6</text><text x="607.44 625.17 637.33 650.14" y="203.6" font-size="19.6">Mean</text><text x="629.65 643.88 648.68" y="236.7" font-size="19.6">0,1</text><text x="571.64 577.48 592.48 597.75 610.88 629.77 646.39" y="271.8" font-size="19.6">-1.96SD</text><text x="622.14 628.45 644.48 648.47" y="303.4" font-size="19.6">-8,5</text><text x="565.48 577.48 592.48 597.75 610.88 629.77 646.39" y="569.5" font-size="19.6">+1.96SD</text><text x="630.11 644.48 649.35" y="600.8" font-size="19.6">3,9</text><text x="607.44 625.17 637.33 650.14" y="680.4" font-size="19.6">Mean</text><text x="610.94 617.48 628.97 644.28 649.01" y="715.0" font-size="19.6">-15,4</text><text x="571.64 577.48 592.48 597.75 610.88 629.77 646.39" y="792.2" font-size="19.6">-1.96SD</text><text x="610.14 616.81 628.51 644.48 649.35" y="823.4" font-size="19.6">-34,8</text>
</svg>
</body></html>
